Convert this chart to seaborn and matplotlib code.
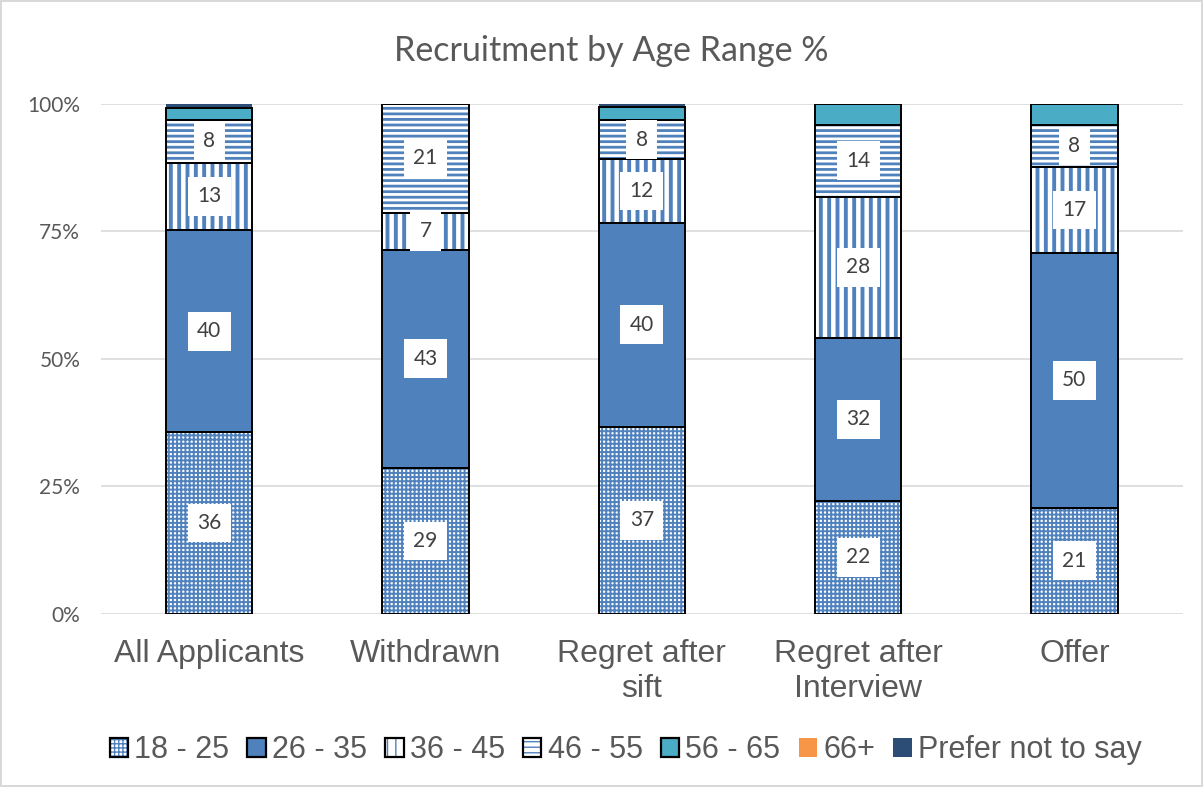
import numpy as np
import matplotlib.pyplot as plt
import seaborn as sns
from matplotlib.patches import Patch

# data (percent of each stage)
stages = ["All Applicants", "Withdrawn", "Regret after\nsift", "Regret after\nInterview", "Offer"]
age_18_25 = [35.6, 28.6, 36.7, 22.2, 20.8]
age_26_35 = [39.6, 42.8, 40.0, 31.9, 50.0]
age_36_45 = [13.3, 7.2, 12.4, 27.7, 16.8]
age_46_55 = [8.3, 21.4, 7.7, 14.1, 8.3]
age_56_65 = [2.4, 0.0, 2.5, 4.1, 4.1]
age_66_plus = [0.2, 0.0, 0.2, 0.0, 0.0]
prefer_not = [0.6, 0.0, 0.5, 0.0, 0.0]

series_names = ["18 - 25", "26 - 35", "36 - 45", "46 - 55", "56 - 65", "66+", "Prefer not to say"]
series_vals = [age_18_25, age_26_35, age_36_45, age_46_55, age_56_65, age_66_plus, prefer_not]

blue = "#4F81BD"
# (face, hatch colour, hatch, hatch width, outlined, labelled)
styles = [
    ("white", blue, "++++", 1.4, True, True),
    (blue, blue, None, 1.0, True, True),
    ("white", blue, "||", 2.8, True, True),
    ("white", blue, "---", 2.0, True, True),
    ("#4BACC6", "#4BACC6", None, 1.0, True, False),
    ("#F79646", "#F79646", None, 1.0, False, False),
    ("#2C4D75", "#2C4D75", None, 1.0, False, False),
]

sns.set_style("white")
plt.rcParams["font.family"] = ["Liberation Sans", "DejaVu Sans"]
calibri_like = ["Lato", "DejaVu Sans"]


def set_hatch_width(patches, w):
    for p in patches:
        if hasattr(p, "set_hatch_linewidth"):
            p.set_hatch_linewidth(w)


fig = plt.figure(figsize=(12.03, 7.87), dpi=100)
fig.patch.set_edgecolor("#d9d9d9")
fig.patch.set_linewidth(1.5)
ax = fig.add_axes([0.084, 0.22, 0.899, 0.648])

for y in [0, 25, 50, 75, 100]:
    ax.axhline(y, color="#d9d9d9", lw=1.2, zorder=0)

bottom = np.zeros(len(stages))
for name, vals, (fc, hc, hatch, hw, outlined, labelled) in zip(series_names, series_vals, styles):
    vals = np.array(vals)
    plt.rcParams["hatch.linewidth"] = hw
    n_before = len(ax.patches)
    sns.barplot(x=stages, y=vals, bottom=bottom, color=fc, saturation=1,
                edgecolor=hc, linewidth=0, hatch=hatch, width=0.4,
                errorbar=None, ax=ax, zorder=2)
    set_hatch_width(ax.patches[n_before:], hw)
    if outlined:
        sns.barplot(x=stages, y=vals, bottom=bottom, color="black", fill=False,
                    linewidth=1.4, width=0.4, errorbar=None, ax=ax, zorder=3)
    if labelled:
        for i, v in enumerate(vals):
            ax.text(i, bottom[i] + v / 2, f"{v:.0f}", ha="center", va="center",
                    fontsize=15, color="#404040", zorder=5, family=calibri_like,
                    bbox=dict(boxstyle="square,pad=0.45", fc="white", ec="none"))
    bottom = bottom + vals

ax.set_ylim(0, 100)
ax.set_xlim(-0.5, len(stages) - 0.5)
ax.set_yticks([0, 25, 50, 75, 100])
ax.set_yticklabels(["0%", "25%", "50%", "75%", "100%"], fontsize=15,
                   color="#595959", family=calibri_like)
ax.tick_params(axis="x", labelsize=23, length=0, pad=18)
ax.tick_params(axis="y", length=0, pad=15)
for lbl in ax.get_xticklabels():
    lbl.set_color("#595959")
    lbl.set_linespacing(1.22)
ax.set_xlabel("")
ax.set_ylabel("")
sns.despine(ax=ax, left=True, bottom=True)

fig.suptitle("Recruitment by Age Range %", fontsize=24.5, color="#595959",
             x=0.508, y=0.955, family=calibri_like)

handles = []
for (fc, hc, hatch, hw, outlined, labelled) in styles:
    inner = Patch(facecolor=fc, edgecolor=hc, hatch=hatch, linewidth=0)
    if outlined:
        handles.append((inner, Patch(fill=False, edgecolor="black", linewidth=1.6)))
    else:
        handles.append(inner)
leg = fig.legend(handles, series_names, loc="center", bbox_to_anchor=(0.52, 0.047),
                 ncol=7, frameon=False, fontsize=22, handlelength=0.6, handleheight=0.6,
                 handletextpad=0.2, columnspacing=0.6)
for t in leg.get_texts():
    t.set_color("#595959")

fig.savefig("out.png", dpi=100)
